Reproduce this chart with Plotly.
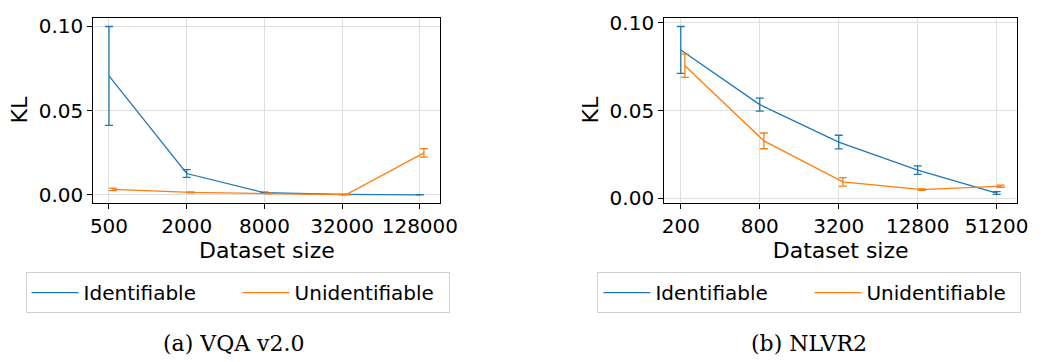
import plotly.graph_objects as go

# ---- data ----
vqa_sizes = [500, 2000, 8000, 32000, 128000]
vqa_ident = [0.0705, 0.0127, 0.0013, 0.0003, 0.0001]
vqa_ident_err = [0.0293, 0.0023, 0.0003, 0.0001, 0.0001]
vqa_unident = [0.0033, 0.0015, 0.0008, 0.0002, 0.0249]
vqa_unident_err = [0.0007, 0.0003, 0.0002, 0.0001, 0.0025]

nlvr_sizes = [200, 800, 3200, 12800, 51200]
nlvr_ident = [0.0846, 0.0534, 0.0320, 0.0160, 0.0029]
nlvr_ident_err = [0.0134, 0.0037, 0.0039, 0.0024, 0.0008]
nlvr_unident = [0.0756, 0.0327, 0.0093, 0.0048, 0.0068]
nlvr_unident_err = [0.0066, 0.0045, 0.0024, 0.0004, 0.0006]

vqa_ticks = ["500", "2000", "8000", "32000", "128000"]
nlvr_ticks = ["200", "800", "3200", "12800", "51200"]
y_ticks = [0.0, 0.05, 0.10]
y_ticktext = ["0.00", "0.05", "0.10"]

series_names = ["Identifiable", "Unidentifiable"]
captions = ["(a) VQA v2.0", "(b) NLVR2"]

BLUE = "#1f77b4"
ORANGE = "#ff7f0e"
OFFSET = 1.075  # small horizontal dodge of the second series (log axis)

fig = go.Figure()

def add_pair(sizes, ident, ident_err, unident, unident_err, xa, ya, legend):
    fig.add_trace(go.Scatter(
        x=sizes, y=ident, mode="lines", name=series_names[0],
        line=dict(color=BLUE, width=1.3),
        error_y=dict(type="data", array=ident_err, visible=True, color=BLUE, thickness=1.3, width=4),
        xaxis=xa, yaxis=ya, legend=legend))
    fig.add_trace(go.Scatter(
        x=[s * OFFSET for s in sizes], y=unident, mode="lines", name=series_names[1],
        line=dict(color=ORANGE, width=1.3),
        error_y=dict(type="data", array=unident_err, visible=True, color=ORANGE, thickness=1.3, width=4),
        xaxis=xa, yaxis=ya, legend=legend))

add_pair(vqa_sizes, vqa_ident, vqa_ident_err, vqa_unident, vqa_unident_err, "x", "y", "legend")
add_pair(nlvr_sizes, nlvr_ident, nlvr_ident_err, nlvr_unident, nlvr_unident_err, "x2", "y2", "legend2")

W, H = 1047, 362
def px(v):
    return v / W
def py(v):
    return 1 - v / H

FONT = "DejaVu Sans"

common_axis = dict(
    showline=True, mirror=True, linecolor="black", linewidth=1,
    ticks="outside", ticklen=5, tickwidth=1, tickcolor="black",
    showgrid=True, gridcolor="#dedede", gridwidth=1, zeroline=False,
    tickangle=0,
    tickfont=dict(family=FONT, size=20, color="black"),
)

legend_common = dict(orientation="h", xanchor="left", yanchor="top",
                     bordercolor="#d0d0d0", borderwidth=1, bgcolor="white",
                     font=dict(family=FONT, size=20), itemwidth=47,
                     entrywidth=149, entrywidthmode="pixels")

fig.update_layout(
    width=W, height=H,
    margin=dict(l=0, r=0, t=0, b=0),
    paper_bgcolor="white", plot_bgcolor="white",
    font=dict(family=FONT, color="black"),
    xaxis=dict(domain=[px(92), px(446)], type="log", range=[2.577, 5.267],
               tickvals=vqa_sizes, ticktext=vqa_ticks, anchor="y",
               title=dict(text="Dataset size", font=dict(size=22), standoff=0), **common_axis),
    yaxis=dict(domain=[py(204), py(12)], range=[-0.00457, 0.1051],
               tickvals=y_ticks, ticktext=y_ticktext, anchor="x",
               title=dict(text="KL", font=dict(size=22), standoff=4), **common_axis),
    xaxis2=dict(domain=[px(674), px(1034)], type="log", range=[2.174, 4.866],
                tickvals=nlvr_sizes, ticktext=nlvr_ticks, anchor="y2",
                title=dict(text="Dataset size", font=dict(size=22), standoff=0), **common_axis),
    yaxis2=dict(domain=[py(204), py(12)], range=[-0.0026, 0.1031],
                tickvals=y_ticks, ticktext=y_ticktext, anchor="x2",
                title=dict(text="KL", font=dict(size=22), standoff=4), **common_axis),
    legend=dict(x=px(23), y=py(276), **legend_common),
    legend2=dict(x=px(606), y=py(276), **legend_common),
    annotations=[
        dict(text=captions[0], x=px(235), y=py(350), xref="paper", yref="paper",
             showarrow=False, xanchor="center", yanchor="middle",
             font=dict(family="DejaVu Serif", size=22, color="black")),
        dict(text=captions[1], x=px(822), y=py(350), xref="paper", yref="paper",
             showarrow=False, xanchor="center", yanchor="middle",
             font=dict(family="DejaVu Serif", size=22, color="black")),
    ],
)

fig.write_html("out.html", config={"displayModeBar": False},
               post_script="document.body.style.margin='0';document.body.style.overflow='hidden';")
